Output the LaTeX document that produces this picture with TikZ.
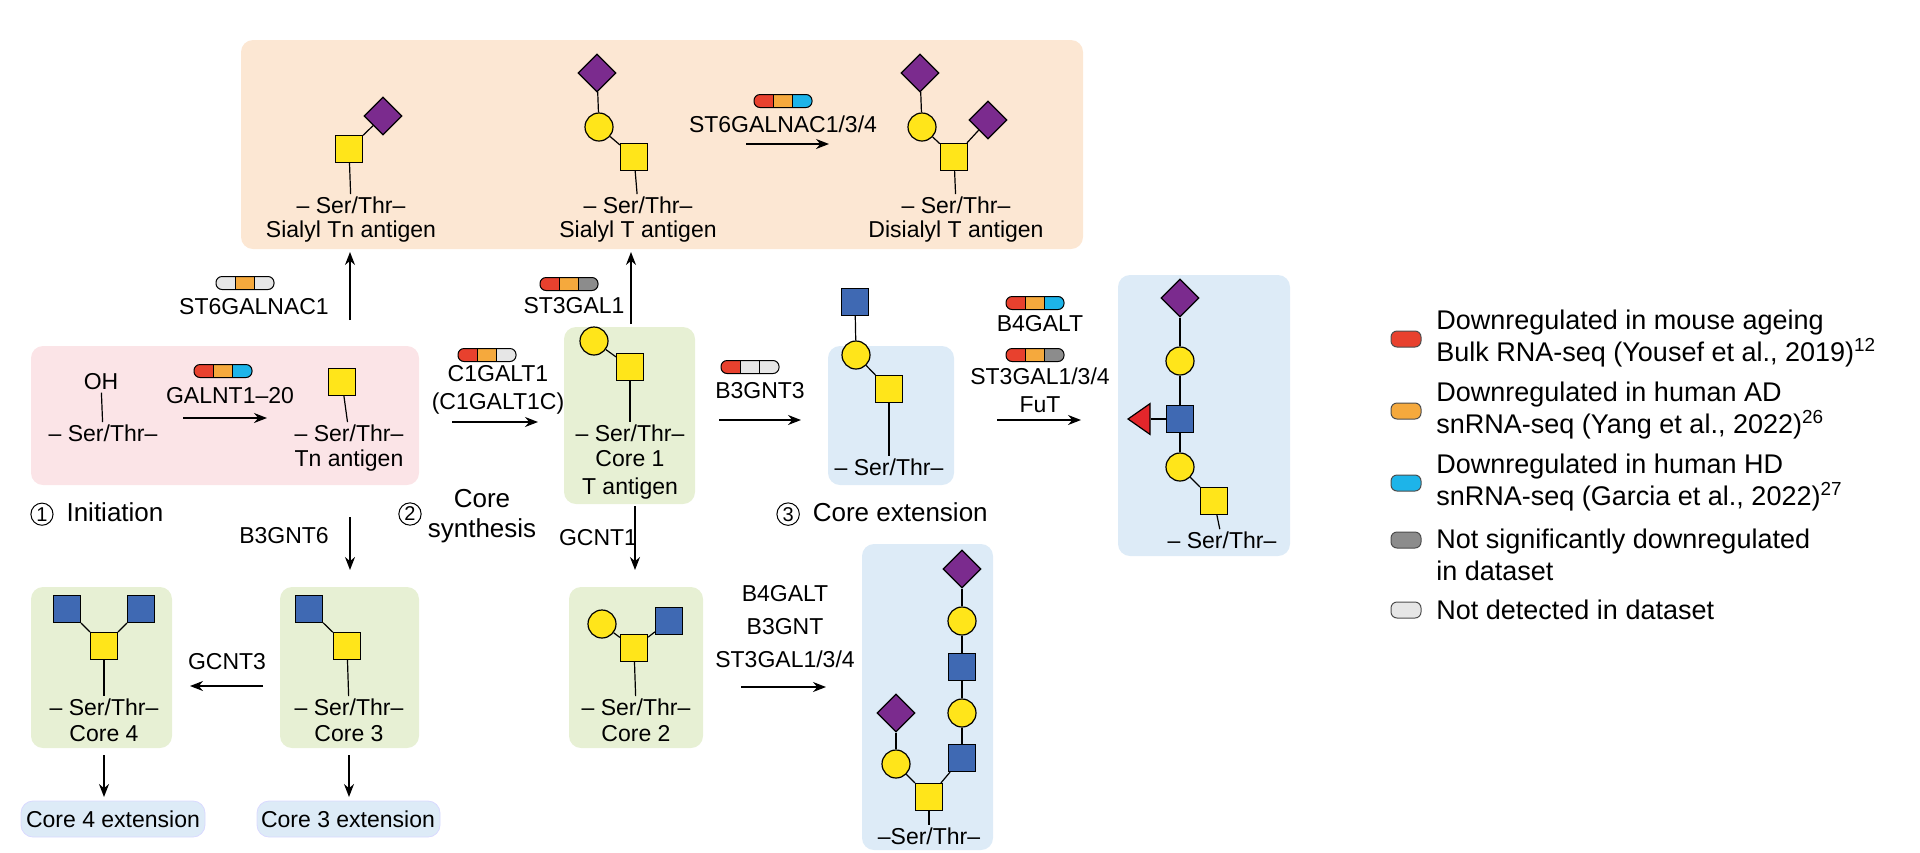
\documentclass[tikz,border=0pt]{standalone}
\usepackage{fontspec}
\setmainfont{Liberation Sans}
\usetikzlibrary{arrows.meta,shapes.geometric}

\definecolor{galyel}{HTML}{FFE51A}
\definecolor{neupur}{HTML}{7B2B8E}
\definecolor{glcblu}{HTML}{3F69B3}
\definecolor{fucred}{HTML}{E3262B}
\definecolor{pillred}{HTML}{E8412E}
\definecolor{pillora}{HTML}{F5A93D}
\definecolor{pillcya}{HTML}{1DB4E9}
\definecolor{pillgry}{HTML}{8C8C8C}
\definecolor{pillnd}{HTML}{E6E6E6}
\definecolor{boxora}{HTML}{FCE7D3}
\definecolor{boxpnk}{HTML}{FBE4E7}
\definecolor{boxgrn}{HTML}{E7F0D4}
\definecolor{boxblu}{HTML}{DDEBF7}

\tikzset{
  ysq/.style={draw,line width=0.6pt,fill=galyel,minimum size=13.5pt,inner sep=0pt},
  bsq/.style={draw,line width=0.6pt,fill=glcblu,minimum size=13.5pt,inner sep=0pt},
  yci/.style={draw,line width=0.6pt,fill=galyel,circle,minimum size=14pt,inner sep=0pt},
  pdia/.style={draw,line width=0.6pt,fill=neupur,diamond,minimum size=19pt,inner sep=0pt},
  rtri/.style={draw,line width=0.6pt,fill=fucred,isosceles triangle,shape border rotate=180,
    isosceles triangle apex angle=70,minimum size=11pt,inner sep=0pt},
  lbl/.style={font=\fontsize{11.5}{14}\selectfont,inner sep=1pt},
  leg/.style={font=\fontsize{13.5}{16}\selectfont,align=left,anchor=west,inner sep=0pt},
  lnk/.style={line width=0.6pt},
  rxn/.style={->,line width=0.75pt},
  box/.style={rounded corners=6pt},
}

% enzyme pill: position, three colours
\newcommand\pill[4]{
  \begin{scope}[shift={(#1)}]
    \begin{scope}
      \clip[rounded corners=3pt] (-29,-6.5) rectangle (29,6.5);
      \fill[#2] (-29,-6.5) rectangle (-9.67,6.5);
      \fill[#3] (-9.67,-6.5) rectangle (9.67,6.5);
      \fill[#4] (9.67,-6.5) rectangle (29,6.5);
      \draw[line width=0.4pt] (-9.67,-6.5) -- (-9.67,6.5) (9.67,-6.5) -- (9.67,6.5);
    \end{scope}
    \draw[line width=0.5pt,rounded corners=3pt] (-29,-6.5) rectangle (29,6.5);
  \end{scope}
}
\newcommand\circnum[1]{\tikz[baseline=(c.base)]\node[circle,draw,line width=0.5pt,inner sep=0.8pt,font=\fontsize{10}{10}\selectfont](c){#1};}
\newcommand\serthr{\textendash\ Ser/Thr\textendash}

\begin{document}
\begin{tikzpicture}[x=0.5pt,y=-0.5pt,>={Stealth[length=6.5pt,width=5pt]}]
\useasboundingbox (0,0) rectangle (1920,852);

% boxes
\fill[box,boxora] (241,40) rectangle (1083,249);
\fill[box,boxpnk] (31,346) rectangle (419,485);
\fill[box,boxgrn] (564,327) rectangle (695,504);
\fill[box,boxblu] (828,346) rectangle (954,485);
\fill[box,boxblu] (1118,275) rectangle (1290,556);
\fill[box,boxgrn] (31,587) rectangle (172,748);
\fill[box,boxgrn] (280,587) rectangle (419,748);
\fill[box,boxgrn] (569,587) rectangle (703,748);
\fill[box,boxblu] (862,544) rectangle (993,850);
\filldraw[box,boxblu,draw=blue!15] (21,801) rectangle (205,837);
\filldraw[box,boxblu,draw=blue!15] (257,801) rectangle (440,837);

% sialyl Tn antigen
\node[ysq] (stn-sq) at (349,149) {};
\node[pdia] (stn-dia) at (383,116) {};
\node[lbl] (stn-st) at (351,205) {\serthr};
\node[lbl] (stn-name) at (351,232) {Sialyl Tn antigen};
\draw[lnk] (stn-sq) -- (stn-dia);
\draw[lnk] (stn-sq) -- (stn-st);

% sialyl T antigen
\node[pdia] (st-dia) at (597,73) {};
\node[yci] (st-ci) at (599,127) {};
\node[ysq] (st-sq) at (634,157) {};
\node[lbl] (st-st) at (638,205) {\serthr};
\node[lbl] (st-name) at (638,232) {Sialyl T antigen};
\draw[lnk] (st-dia) -- (st-ci);
\draw[lnk] (st-ci) -- (st-sq);
\draw[lnk] (st-sq) -- (st-st);

% disialyl T antigen
\node[pdia] (dst-dia) at (920,73) {};
\node[yci] (dst-ci) at (922,127) {};
\node[pdia] (dst-dia2) at (988,120) {};
\node[ysq] (dst-sq) at (954,157) {};
\node[lbl] (dst-st) at (956,205) {\serthr};
\node[lbl] (dst-name) at (956,232) {Disialyl T antigen};
\draw[lnk] (dst-dia) -- (dst-ci);
\draw[lnk] (dst-ci) -- (dst-sq);
\draw[lnk] (dst-dia2) -- (dst-sq);
\draw[lnk] (dst-sq) -- (dst-st);

\pill{783,101}{pillred}{pillora}{pillcya}
\node[lbl] (st6c) at (783,124) {ST6GALNAC1/3/4};
\coordinate (a1s) at (746,144);
\coordinate (a1e) at (829,144);
\draw[rxn] (a1s) -- (a1e);

% initiation
\node[lbl] (oh) at (101,382) {OH};
\node[lbl] (ini-st) at (103,433) {\serthr};
\draw[lnk] (oh) -- (ini-st);
\pill{223,371}{pillred}{pillora}{pillcya}
\node[lbl] (galnt) at (230,396) {GALNT1\textendash20};
\coordinate (a2s) at (183,418);
\coordinate (a2e) at (267,418);
\draw[rxn] (a2s) -- (a2e);
\node[ysq] (tn-sq) at (342,382) {};
\node[lbl] (tn-st) at (349,433) {\serthr};
\node[lbl] (tn-name) at (349,461) {Tn antigen};
\draw[lnk] (tn-sq) -- (tn-st);
\node[lbl,anchor=west,font=\fontsize{13}{15}\selectfont] (step1) at (28,514) {\circnum{1}\enspace Initiation};

\coordinate (a3s) at (350,320);
\coordinate (a3e) at (350,252);
\draw[rxn] (a3s) -- (a3e);
\pill{245,283}{pillnd}{pillora}{pillnd}
\node[lbl] (st6a) at (254,307) {ST6GALNAC1};
\coordinate (a4s) at (350,517);
\coordinate (a4e) at (350,570);
\draw[rxn] (a4s) -- (a4e);
\node[lbl] (b3gnt6) at (284,536) {B3GNT6};

% core synthesis
\pill{487,355}{pillred}{pillora}{pillnd}
\node[lbl,align=center] (c1galt) at (498,390) {C1GALT1\\(C1GALT1C)};
\coordinate (a5s) at (452,422);
\coordinate (a5e) at (538,422);
\draw[rxn] (a5s) -- (a5e);
\node[lbl,font=\fontsize{13}{15}\selectfont] (step2n) at (410,514) {\circnum{2}};
\node[lbl,align=center,font=\fontsize{13}{15}\selectfont] (step2) at (482,516) {Core\\synthesis};

% core 1
\node[yci] (c1-ci) at (594,341) {};
\node[ysq] (c1-sq) at (630,367) {};
\node[lbl] (c1-st) at (630,433) {\serthr};
\node[lbl,align=center] (c1-name) at (630,475) {Core 1\\T antigen};
\draw[lnk] (c1-ci) -- (c1-sq);
\draw[lnk] (c1-sq) -- (c1-st);
\coordinate (a6s) at (631,324);
\coordinate (a6e) at (631,252);
\draw[rxn] (a6s) -- (a6e);
\pill{569,284}{pillred}{pillora}{pillgry}
\node[lbl] (st3gal1) at (574,306) {ST3GAL1};
\coordinate (a7s) at (635,506);
\coordinate (a7e) at (635,570);
\draw[rxn] (a7s) -- (a7e);
\node[lbl] (gcnt1) at (598,538) {GCNT1};

% core extension
\pill{750,367}{pillred}{pillnd}{pillnd}
\node[lbl] (b3gnt3) at (760,391) {B3GNT3};
\coordinate (a8s) at (719,420);
\coordinate (a8e) at (801,420);
\draw[rxn] (a8s) -- (a8e);
\node[bsq] (ce-bsq) at (855,302) {};
\node[yci] (ce-ci) at (856,355) {};
\node[ysq] (ce-sq) at (889,389) {};
\node[lbl] (ce-st) at (889,467) {\serthr};
\draw[lnk] (ce-bsq) -- (ce-ci);
\draw[lnk] (ce-ci) -- (ce-sq);
\draw[lnk] (ce-sq) -- (ce-st);
\node[lbl,anchor=west,font=\fontsize{13}{15}\selectfont] (step3) at (774,514) {\circnum{3}\enspace Core extension};

\pill{1035,303}{pillred}{pillora}{pillcya}
\node[lbl] (b4galt) at (1040,324) {B4GALT};
\pill{1035,355}{pillred}{pillora}{pillgry}
\node[lbl,align=center] (st3gal) at (1040,390) {ST3GAL1/3/4\\FuT};
\coordinate (a9s) at (997,420);
\coordinate (a9e) at (1081,420);
\draw[rxn] (a9s) -- (a9e);
\node[pdia] (bx-dia) at (1180,298) {};
\node[yci] (bx-ci1) at (1180,361) {};
\node[bsq] (bx-bsq) at (1180,419) {};
\node[rtri] (bx-fuc) at (1142,419) {};
\node[yci] (bx-ci2) at (1180,467) {};
\node[ysq] (bx-sq) at (1214,501) {};
\node[lbl] (bx-st) at (1222,540) {\serthr};
\draw[lnk] (bx-dia) -- (bx-ci1);
\draw[lnk] (bx-ci1) -- (bx-bsq);
\draw[lnk] (bx-fuc) -- (bx-bsq);
\draw[lnk] (bx-bsq) -- (bx-ci2);
\draw[lnk] (bx-ci2) -- (bx-sq);
\draw[lnk] (bx-sq) -- (bx-st);

% core 4
\node[bsq] (c4-b1) at (67,609) {};
\node[bsq] (c4-b2) at (141,609) {};
\node[ysq] (c4-sq) at (104,646) {};
\node[lbl] (c4-st) at (104,707) {\serthr};
\node[lbl] (c4-name) at (104,734) {Core 4};
\draw[lnk] (c4-b1) -- (c4-sq);
\draw[lnk] (c4-b2) -- (c4-sq);
\draw[lnk] (c4-sq) -- (c4-st);

% core 3
\node[bsq] (c3-b1) at (309,609) {};
\node[ysq] (c3-sq) at (347,646) {};
\node[lbl] (c3-st) at (349,707) {\serthr};
\node[lbl] (c3-name) at (349,734) {Core 3};
\draw[lnk] (c3-b1) -- (c3-sq);
\draw[lnk] (c3-sq) -- (c3-st);
\coordinate (a10s) at (263,686);
\coordinate (a10e) at (190,686);
\draw[rxn] (a10s) -- (a10e);
\node[lbl] (gcnt3) at (227,662) {GCNT3};

% core 2
\node[yci] (c2-ci) at (602,624) {};
\node[bsq] (c2-b1) at (669,621) {};
\node[ysq] (c2-sq) at (634,648) {};
\node[lbl] (c2-st) at (636,707) {\serthr};
\node[lbl] (c2-name) at (636,734) {Core 2};
\draw[lnk] (c2-ci) -- (c2-sq);
\draw[lnk] (c2-b1) -- (c2-sq);
\draw[lnk] (c2-sq) -- (c2-st);

% extensions
\coordinate (a11s) at (104,755);
\coordinate (a11e) at (104,797);
\draw[rxn] (a11s) -- (a11e);
\coordinate (a12s) at (349,755);
\coordinate (a12e) at (349,797);
\draw[rxn] (a12s) -- (a12e);
\node[lbl] (c4-ext) at (113,819) {Core 4 extension};
\node[lbl] (c3-ext) at (348,819) {Core 3 extension};

\node[lbl,align=center,font=\fontsize{11.5}{16.5}\selectfont] (c2-enz) at (785,627) {B4GALT\\B3GNT\\ST3GAL1/3/4};
\coordinate (a13s) at (741,687);
\coordinate (a13e) at (826,687);
\draw[rxn] (a13s) -- (a13e);
\node[pdia] (bt-dia) at (962,569) {};
\node[yci] (bt-ci1) at (962,621) {};
\node[bsq] (bt-b1) at (962,667) {};
\node[yci] (bt-ci2) at (962,713) {};
\node[bsq] (bt-b2) at (962,758) {};
\node[ysq] (bt-sq) at (929,797) {};
\node[yci] (bt-ci3) at (896,764) {};
\node[pdia] (bt-dia2) at (896,713) {};
\node[lbl] (bt-st) at (929,836) {\textendash Ser/Thr\textendash};
\draw[lnk] (bt-dia) -- (bt-ci1);
\draw[lnk] (bt-ci1) -- (bt-b1);
\draw[lnk] (bt-b1) -- (bt-ci2);
\draw[lnk] (bt-ci2) -- (bt-b2);
\draw[lnk] (bt-b2) -- (bt-sq);
\draw[lnk] (bt-dia2) -- (bt-ci3);
\draw[lnk] (bt-ci3) -- (bt-sq);
\draw[lnk] (bt-sq) -- (bt-st);

% legend
\foreach \y/\c in {339/pillred,411/pillora,483/pillcya,540/pillgry,610/pillnd}
  \filldraw[fill=\c,draw=black!70,line width=0.5pt,rounded corners=3pt] (1391,\y-8) rectangle (1421,\y+8);
\node[leg] (leg1) at (1436,339) {Downregulated in mouse ageing\\Bulk RNA-seq (Yousef et al., 2019)\textsuperscript{12}};
\node[leg] (leg2) at (1436,411) {Downregulated in human AD\\snRNA-seq (Yang et al., 2022)\textsuperscript{26}};
\node[leg] (leg3) at (1436,483) {Downregulated in human HD\\snRNA-seq (Garcia et al., 2022)\textsuperscript{27}};
\node[leg] (leg4) at (1436,555) {Not significantly downregulated\\in dataset};
\node[leg] (leg5) at (1436,610) {Not detected in dataset};
\end{tikzpicture}
\end{document}
